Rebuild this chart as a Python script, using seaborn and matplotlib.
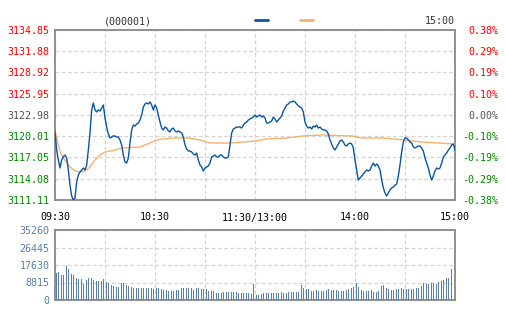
import numpy as np
import pandas as pd
import matplotlib
matplotlib.use("Agg")
import matplotlib.pyplot as plt
import seaborn as sns

sns.set_theme(style="white")
plt.rcParams['font.family'] = ['DejaVu Sans Mono', 'DejaVu Sans']

# ---------------- data ----------------
title_code = "(000001)"
prev_close = 3122.98
price_ticks = [3111.11, 3114.08, 3117.05, 3120.01, 3122.98, 3125.95, 3128.92, 3131.88, 3134.85]
pct_labels = ["-0.38%", "-0.29%", "-0.19%", "-0.10%", "0.00%", "0.10%", "0.19%", "0.29%", "0.38%"]
time_ticks = [0, 60, 120, 180, 240]
time_labels = ["09:30", "10:30", "11:30/13:00", "14:00", "15:00"]
half_hour_ticks = [30, 90, 150, 210]
vol_ticks = [0, 8815, 17630, 26445, 35260]

price = [
    3120.75, 3118.09, 3116.70, 3115.58, 3116.70, 3117.16, 3117.39, 3116.98, 3115.30, 3113.20,
    3111.67, 3111.11, 3111.39, 3113.62, 3114.60, 3115.02, 3115.30, 3115.58, 3115.30, 3116.00,
    3118.09, 3120.47, 3123.68, 3124.66, 3123.68, 3123.40, 3123.68, 3123.54, 3123.96, 3124.38,
    3122.56, 3121.30, 3120.33, 3119.77, 3119.91, 3120.05, 3120.05, 3119.91, 3119.91, 3119.49,
    3118.79, 3117.39, 3116.42, 3116.28, 3116.98, 3119.07, 3120.89, 3121.58, 3121.44, 3121.72,
    3121.86, 3122.28, 3122.98, 3124.10, 3124.52, 3124.66, 3124.52, 3124.80, 3124.38, 3123.68,
    3124.38, 3123.96, 3122.98, 3122.00, 3121.16, 3120.89, 3121.30, 3121.16, 3120.75, 3120.61,
    3121.02, 3121.16, 3120.75, 3120.61, 3120.75, 3120.61, 3120.47, 3119.91, 3118.79, 3118.23,
    3117.95, 3117.95, 3117.81, 3117.53, 3117.39, 3117.67, 3116.70, 3116.00, 3115.72, 3115.16,
    3115.58, 3115.72, 3115.86, 3116.28, 3117.12, 3117.25, 3117.39, 3117.12, 3117.12, 3117.39,
    3117.39, 3117.12, 3116.98, 3116.98, 3117.12, 3118.79, 3120.47, 3121.02, 3121.16, 3121.30,
    3121.30, 3121.30, 3121.16, 3121.58, 3121.86, 3122.00, 3122.28, 3122.42, 3122.56, 3122.70,
    3122.98, 3122.70, 3122.84, 3122.98, 3122.70, 3122.84, 3122.56, 3121.86, 3121.86, 3122.00,
    3122.14, 3122.70, 3122.42, 3122.00, 3122.28, 3122.56, 3122.84, 3123.54, 3123.96, 3124.38,
    3124.52, 3124.80, 3124.80, 3124.94, 3124.80, 3124.52, 3124.24, 3124.10, 3123.96, 3123.40,
    3122.00, 3121.44, 3121.16, 3121.30, 3121.02, 3121.44, 3121.30, 3121.58, 3121.16, 3121.30,
    3121.02, 3120.89, 3120.89, 3120.75, 3120.33, 3119.49, 3118.93, 3118.37, 3118.09, 3118.51,
    3118.93, 3119.35, 3119.49, 3119.21, 3118.79, 3118.65, 3118.93, 3119.07, 3118.93, 3118.37,
    3116.70, 3115.30, 3113.90, 3114.18, 3114.46, 3114.74, 3115.02, 3115.30, 3115.16, 3115.30,
    3115.86, 3116.28, 3115.86, 3116.14, 3115.86, 3115.30, 3113.90, 3112.79, 3112.09, 3111.67,
    3112.09, 3112.51, 3112.79, 3112.93, 3113.20, 3113.34, 3114.46, 3116.00, 3117.81, 3119.21,
    3119.77, 3119.77, 3119.49, 3119.21, 3119.07, 3118.51, 3118.37, 3118.51, 3118.65, 3118.65,
    3118.37, 3117.95, 3116.98, 3116.28, 3115.58, 3114.60, 3113.90, 3114.46, 3115.16, 3115.58,
    3115.44, 3115.58, 3116.28, 3117.12, 3117.39, 3117.67, 3118.09, 3118.37, 3118.79, 3118.93,
    3118.09,
]
price_minute = list(range(len(price)))

avg_minute = [0, 1, 3, 5, 9, 12, 15, 18, 21, 24, 27, 30, 36, 40, 51, 57, 61, 65, 71, 80,
              87, 93, 105, 113, 120, 127, 139, 149, 160, 178, 184, 196, 210, 220, 230, 240]
avg_price = [3120.75, 3119.77, 3117.81, 3116.98, 3115.72, 3115.16, 3115.02, 3115.16, 3115.72, 3116.70,
             3117.39, 3117.81, 3118.09, 3118.37, 3118.51, 3119.07, 3119.49, 3119.63, 3119.77, 3119.77,
             3119.49, 3119.07, 3119.07, 3119.21, 3119.35, 3119.63, 3119.77, 3120.05, 3120.19, 3120.05,
             3119.77, 3119.77, 3119.49, 3119.21, 3119.07, 3118.93]

volume = [
    13700, 14100, 13600, 12600, 12600, 14100, 16900, 15800, 13900, 13100,
    12600, 12100, 10900, 10600, 10600, 10600, 8100, 9700, 10100, 10900,
    10900, 10900, 10100, 9700, 9700, 9700, 9500, 9500, 10600, 10600,
    9200, 8400, 8100, 7600, 7100, 6700, 6700, 6700, 7600, 8400,
    8700, 8700, 7600, 7100, 7600, 6400, 6000, 6000, 6000, 6000,
    6000, 6000, 6000, 6000, 6000, 6000, 6000, 6000, 5500, 5300,
    5800, 6000, 6400, 5300, 5000, 5000, 5000, 4700, 4700, 4700,
    4700, 4700, 5000, 5000, 5000, 5800, 5800, 5800, 5800, 5800,
    5800, 5800, 5000, 5800, 5800, 5800, 5300, 5300, 5300, 5300,
    5600, 4400, 4400, 4400, 4400, 4400, 3700, 3700, 3700, 3700,
    4200, 4200, 4200, 4200, 4200, 4200, 4200, 4200, 4200, 3300,
    3300, 3300, 3300, 3300, 3300, 3300, 3000, 3000, 8100, 2500,
    2500, 2500, 2500, 3000, 3300, 3300, 3300, 3700, 3700, 3700,
    3700, 3700, 3700, 3700, 3300, 4200, 3300, 3300, 3300, 4200,
    4200, 4200, 4200, 4200, 4200, 4200, 4500, 7600, 5800, 5500,
    5500, 5500, 4700, 4700, 4700, 4700, 5000, 4700, 4700, 4700,
    4700, 4700, 5000, 5500, 6700, 5000, 5000, 4700, 5000, 4700,
    4700, 4700, 4700, 4700, 5000, 5300, 5600, 5800, 6700, 8400,
    8700, 6700, 6200, 5000, 4500, 4500, 4500, 4500, 4200, 5000,
    4200, 4200, 4200, 4500, 5800, 7100, 7600, 7100, 5800, 5300,
    5000, 5000, 5000, 5000, 5300, 5600, 6000, 6000, 5600, 5500,
    5300, 5500, 5300, 5300, 5300, 5600, 5800, 6200, 6700, 7100,
    8700, 8100, 8100, 8100, 8100, 8400, 8700, 8100, 8100, 9200,
    9200, 9700, 10100, 10400, 10900, 10900, 12600, 15500,
]
vol_minute = list(range(1, len(volume) + 1))

# ---------------- styles ----------------
BLUE = "#0a55a3"
ORANGE = "#f5b26e"
BAR = "#5b7fa6"
RED = "#ff0000"
GREEN = "#008800"
GRAY = "#555555"
GRID = "#d4d4d4"
SPINE = "#888888"
FS = 7.2

W, H = 505, 330
fig = plt.figure(figsize=(W / 100, H / 100), dpi=100)
ax = fig.add_axes([55 / W, (H - 200) / H, 400 / W, 170 / H])
axv = fig.add_axes([55 / W, (H - 300) / H, 400 / W, 70 / H])

df_p = pd.DataFrame({"m": price_minute, "p": price})
df_a = pd.DataFrame({"m": avg_minute, "p": avg_price})
df_v = pd.DataFrame({"m": vol_minute, "v": volume})

sns.lineplot(data=df_a, x="m", y="p", ax=ax, color=ORANGE, lw=1.0, zorder=3)
sns.lineplot(data=df_p, x="m", y="p", ax=ax, color=BLUE, lw=1.0, zorder=4)

sns.barplot(data=df_v, x="m", y="v", ax=axv, native_scale=True, color=BAR,
            saturation=1, width=0.57, errorbar=None, zorder=3, linewidth=0,
            antialiased=False)

for a in (ax, axv):
    a.set_xlim(0, 240)
    a.set_xlabel("")
    a.set_ylabel("")
    a.set_xticks(time_ticks)
    a.set_xticks(half_hour_ticks, minor=True)
    for s in a.spines.values():
        s.set_color(SPINE)
        s.set_linewidth(1.3)
    a.grid(True, which="both", color=GRID, lw=0.9, ls=(0, (3, 2)), zorder=0)
    a.set_axisbelow(True)
    a.tick_params(which="both", length=0)

ax.set_ylim(price_ticks[0], price_ticks[-1])
ax.set_yticks(price_ticks)
ax.set_yticklabels([f"{v:.2f}" for v in price_ticks], fontsize=FS)
for lbl, v in zip(ax.get_yticklabels(), price_ticks):
    lbl.set_color(RED if v > prev_close + 0.01 else (GREEN if v < prev_close - 0.01 else GRAY))
ax.set_xticklabels(time_labels, fontsize=FS)
ax.tick_params(axis="x", pad=9, colors="black")
ax.tick_params(axis="y", pad=4)

axr = ax.twinx()
axr.set_ylim(ax.get_ylim())
axr.set_yticks(price_ticks)
axr.set_yticklabels(pct_labels, fontsize=FS, ha="right")
for lbl, v in zip(axr.get_yticklabels(), price_ticks):
    lbl.set_color(RED if v > prev_close + 0.01 else (GREEN if v < prev_close - 0.01 else GRAY))
axr.tick_params(length=0, pad=31.5)
for s in axr.spines.values():
    s.set_visible(False)
axr.grid(False)

axv.set_ylim(0, vol_ticks[-1])
axv.set_yticks(vol_ticks)
axv.set_yticklabels([str(v) for v in vol_ticks], fontsize=FS, color=BAR)
axv.set_xticklabels([])
axv.tick_params(axis="y", pad=4)

# header
fig.text(128 / W, 1 - 21 / H, title_code, fontsize=FS, color="#333333", ha="center", va="center")
fig.text(455 / W, 1 - 21 / H, time_labels[-1], fontsize=FS, color="#333333", ha="right", va="center")
fig.add_artist(plt.Line2D([255 / W, 268 / W], [1 - 19.5 / H] * 2, color=BLUE, lw=2))
fig.add_artist(plt.Line2D([300 / W, 313 / W], [1 - 19.5 / H] * 2, color=ORANGE, lw=2))

fig.savefig("out.png", dpi=100)
